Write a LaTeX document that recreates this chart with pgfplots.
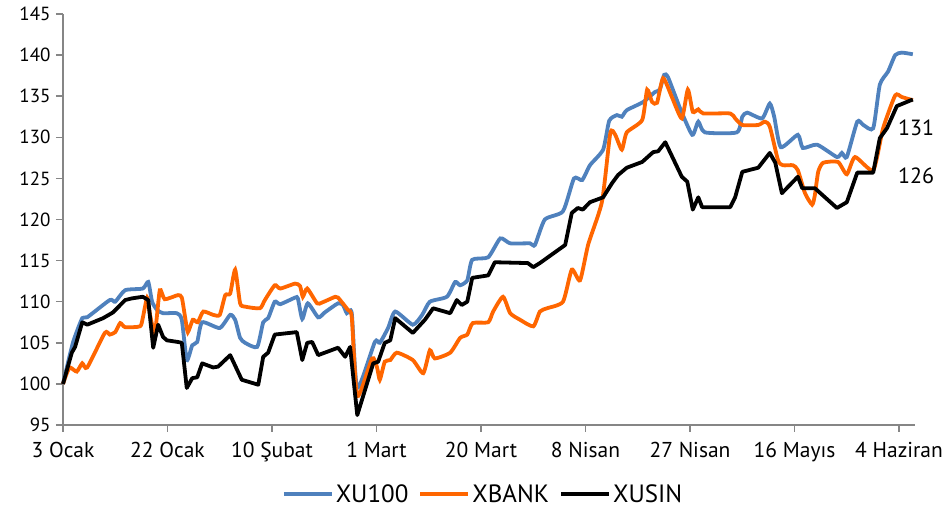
\documentclass[border=0pt]{standalone}
\usepackage{pgfplots}
\pgfplotsset{compat=1.18}
\usepackage{fontspec}
\setmainfont{PT Sans}
\definecolor{cblue}{HTML}{4F81BD}
\definecolor{corange}{HTML}{FF6600}
\definecolor{caxis}{HTML}{868686}
\begin{document}
\begin{tikzpicture}
\begin{axis}[
  scale only axis, width=852pt, height=411pt,
  xmin=0, xmax=154.9, ymin=95, ymax=145,
  axis lines=left, axis line style={caxis, line width=1.5pt, -},
  xtick={0,19,38,57,76,95,114,133,152},
  xticklabels={3 Ocak,22 Ocak,10 Şubat,1 Mart,20 Mart,8 Nisan,27 Nisan,16 Mayıs,4 Haziran},
  ytick={95,100,...,145},
  tick align=outside, major tick length=7pt,
  tick style={caxis, line width=1.5pt},
  /pgf/number format/assume math mode=true,
  yticklabel style={font=\fontsize{19}{22}\selectfont, text=black, xshift=-2pt},
  xticklabel style={font=\fontsize{21.5}{24}\selectfont, text=black, yshift=-7pt},
  legend style={draw=none, at={(0.493,-0.168)}, anchor=center, legend columns=3,
    font=\fontsize{25}{28}\selectfont, inner sep=0pt,
    /tikz/every even column/.append style={column sep=8pt}},
  legend cell align=left,
  legend image code/.code={\draw[#1, line width=4pt] (0pt,0pt) -- (48pt,0pt);},
  clip=false,
]
\addplot[cblue, line width=3.8pt, smooth, tension=0.35] coordinates {
(0,100) (1.8,105) (3.5,108.0) (4.4,108.1) (8.5,110.2) (9.5,110.0) (11.3,111.4) (14.5,111.6) (15.5,112.4) (16.2,110.0) (17.1,109.0) (18.2,108.6) (20.7,108.6) (21.6,107.8) (22.5,102.9) (23.5,104.7) (24.4,105.1) (25.3,107.5) (28.5,106.8) (30.4,108.4) (31.3,107.8) (32.2,105.6) (33.1,105.0) (35.3,104.5) (36.4,107.5) (37.3,108.0) (38.5,110.0) (39.5,109.7) (42.2,110.5) (42.7,110.4) (43.5,107.9) (44.5,109.8) (46.4,108.1) (47.6,108.7) (50.0,109.8) (50.9,109.6) (51.6,108.6) (52.5,108.6) (53.5,99.5) (56.7,105.1) (57.6,105.0) (59.1,106.8) (60.4,108.8) (63.6,107.2) (65.3,108.4) (66.7,110.0) (69.8,110.6) (71.3,112.4) (72.2,112.0) (73.5,112.6) (74.4,115.1) (77.3,115.4) (79.5,117.7) (81.3,117.1) (84.9,117.1) (85.8,116.9) (87.6,120.0) (90.9,121.0) (92.9,125.0) (94.4,124.8) (95.8,126.6) (98.2,128.5) (99.3,132.0) (100.7,132.7) (101.6,132.5) (102.5,133.3) (105.5,134.3) (107.6,135.5) (108.5,135.8) (109.3,137.6) (110.0,137.3) (112.2,133.5) (114.4,130.3) (115.5,131.9) (116.7,130.6) (122.5,130.6) (123.5,132.5) (124.4,133.0) (127.1,132.3) (128.5,134.1) (129.3,132.5) (130.5,128.8) (133.6,130.3) (134.5,128.7) (137.1,129.1) (140.7,127.6) (141.6,128.1) (142.5,127.6) (144.4,131.9) (145.5,131.5) (147.3,131.1) (148.5,136.4) (150.0,138.0) (151.3,140.0) (152.5,140.3) (154.5,140.1)
};
\addlegendentry{XU100}
\addplot[corange, line width=3.8pt, smooth, tension=0.35] coordinates {
(0,100) (0.7,101.3) (1.3,102.0) (2.5,101.5) (3.5,102.5) (4.4,102.0) (7.6,106.2) (8.5,106.0) (9.5,106.3) (10.4,107.4) (11.3,106.9) (14.0,107.0) (14.5,108.0) (15.3,110.5) (15.8,108.5) (16.7,106.2) (17.6,111.4) (18.5,110.3) (20.9,110.8) (21.6,110.5) (22.2,108.1) (22.7,106.3) (23.6,107.8) (24.5,107.5) (25.5,108.8) (27.3,108.4) (28.5,108.4) (29.5,110.8) (30.4,111.0) (31.3,113.9) (32.2,109.8) (33.1,109.4) (35.8,109.2) (36.7,110.2) (38.5,112.0) (39.5,111.6) (42.2,112.2) (43.1,111.9) (43.6,110.6) (44.4,111.6) (46.2,109.8) (47.1,109.9) (49.5,110.6) (50.0,110.5) (51.8,109.0) (52.5,108.1) (53.5,98.5) (56.2,103.1) (57.1,102.0) (57.6,100.5) (58.5,102.7) (59.5,102.9) (60.7,103.8) (63.6,102.9) (65.5,101.3) (66.7,104.1) (67.6,103.1) (70.4,103.8) (72.2,105.6) (73.5,106.0) (74.5,107.4) (77.3,107.5) (78.2,108.8) (80.0,110.6) (81.3,108.6) (83.1,107.8) (85.5,107.0) (86.7,108.8) (88.0,109.2) (90.9,110.0) (92.5,113.9) (94.0,112.6) (95.5,117.0) (98.0,122.2) (99.5,130.5) (100.4,130.3) (101.6,128.5) (102.5,130.6) (105.3,132.1) (106.2,135.8) (107.1,134.3) (108.0,134.2) (109.1,137.2) (110.7,134.9) (112.5,132.3) (113.6,135.8) (114.5,133.1) (115.5,133.4) (116.4,132.9) (121.3,132.9) (122.2,132.3) (123.5,131.5) (126.4,131.5) (127.6,131.9) (128.5,131.3) (130.0,127.2) (130.9,126.6) (132.7,126.6) (133.6,126.0) (134.9,123.2) (136.2,121.8) (136.7,123.0) (137.3,125.8) (138.2,126.9) (140.9,127.0) (142.5,125.5) (144.0,127.6) (147.3,126.0) (149.1,131.1) (151.3,135.1) (152.5,134.9) (154.5,134.5)
};
\addlegendentry{XBANK}
\addplot[black, line width=3.8pt, line join=round] coordinates {
(0,100) (1.6,103.8) (2.2,104.5) (3.5,107.5) (4.4,107.2) (7.3,108.0) (9.1,108.7) (11.3,110.2) (12.5,110.4) (14.5,110.6) (15.5,110.2) (16.4,104.4) (17.3,107.2) (18.2,105.7) (18.9,105.3) (20.9,105.1) (21.6,105.0) (22.5,99.5) (23.5,100.7) (24.4,100.8) (25.3,102.5) (27.3,102.0) (28.2,102.1) (30.4,103.5) (32.5,100.5) (35.5,99.9) (36.4,103.3) (37.3,103.8) (38.5,106.0) (42.5,106.3) (43.5,102.9) (44.4,105.0) (45.3,105.1) (46.4,103.5) (50.0,104.4) (51.3,103.3) (52.2,104.5) (53.5,96.2) (56.4,102.5) (57.3,102.7) (58.5,105.0) (59.5,105.3) (60.4,108.0) (63.6,106.2) (65.8,107.8) (67.3,109.2) (70.4,108.6) (71.6,110.2) (72.5,109.6) (73.5,110.0) (74.4,112.9) (77.3,113.2) (78.5,114.8) (84.5,114.7) (85.5,114.2) (86.7,114.7) (91.3,116.9) (92.5,120.8) (93.6,121.4) (94.5,121.2) (95.8,122.1) (98.2,122.7) (99.8,124.4) (100.9,125.4) (102.5,126.3) (105.3,127.0) (107.3,128.2) (108.2,128.3) (109.5,129.4) (112.5,125.2) (113.5,124.6) (114.5,121.2) (115.5,122.7) (116.2,121.5) (121.3,121.5) (122.2,122.7) (123.5,125.8) (126.4,126.3) (128.5,128.1) (129.5,126.9) (130.7,123.2) (133.6,125.2) (134.4,123.8) (136.7,123.8) (140.7,121.4) (142.5,122.1) (144.4,125.7) (147.3,125.7) (148.5,129.9) (149.8,131.1) (151.6,133.8) (154.5,134.6)
};
\addlegendentry{XUSIN}
\node[font=\fontsize{22}{24}\selectfont] at (axis cs:155.1,131.1) {131};
\node[font=\fontsize{22}{24}\selectfont] at (axis cs:155.1,125.3) {126};
\end{axis}
\pgfresetboundingbox
\path ([shift={(-63pt,-83pt)}]current axis.south west) rectangle ([shift={(35pt,14pt)}]current axis.north east);
\end{tikzpicture}
\end{document}
